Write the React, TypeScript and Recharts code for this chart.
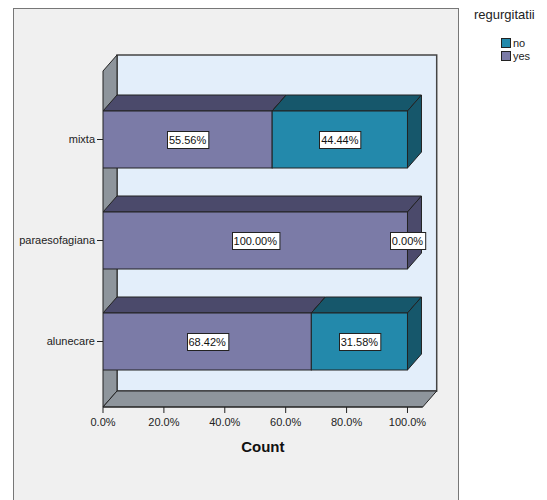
import React from 'react';
import { BarChart, Bar, XAxis, YAxis, LabelList } from 'recharts';

const categories = ['mixta', 'paraesofagiana', 'alunecare'];
const yesShare = [0.5556, 1.0, 0.6842];
const noShare = [0.4444, 0.0, 0.3158];
const legendItems = ['no', 'yes'];
const xTicks = [0, 0.2, 0.4, 0.6, 0.8, 1.0];

const data = categories.map((name, i) => ({ name, yes: yesShare[i], no: noShare[i] }));

const W = 547;
const H = 500;
// front plane of the 3d box
const LEFT = 103;
const RIGHT = 422.7;
const TOP = 71;
const BOTTOM = 407;
const DX = 14;
const DY = 16;

const colors: Record<string, { front: string; dark: string }> = {
  yes: { front: '#7b7ba7', dark: '#4b4a6b' },
  no: { front: '#2389ab', dark: '#16576b' },
};
const edge = '#222';
const font = '"Liberation Sans", Arial, sans-serif';

const bar3d = (key: string) => (props: any) => {
  const { x, y, width, height } = props;
  if (!width || width <= 0) return null;
  const x1 = x + width;
  const y1 = y + height;
  const c = colors[key];
  return (
    <g>
      <path d={`M${x},${y}L${x + DX},${y - DY}L${x1 + DX},${y - DY}L${x1},${y}Z`} fill={c.dark} stroke={edge} />
      <path d={`M${x1},${y}L${x1 + DX},${y - DY}L${x1 + DX},${y1 - DY}L${x1},${y1}Z`} fill={c.dark} stroke={edge} />
      <rect x={x} y={y} width={width} height={height} fill={c.front} stroke={edge} />
    </g>
  );
};

const charW = (s: string) =>
  s.split('').reduce((a, ch) => a + (ch === '.' ? 3.06 : ch === '%' ? 9.78 : 6.12), 0);

const pctLabel = (props: any) => {
  const { x, y, width, height, value } = props;
  const text = (Number(value) * 100).toFixed(2) + '%';
  const cx = x + width / 2;
  const cy = y + height / 2;
  const w = charW(text) + 4;
  return (
    <g>
      <rect x={Math.round(cx - w / 2) + 0.5} y={Math.round(cy - 9) + 0.5} width={w} height={17} fill="#fff" stroke={edge} />
      <text x={cx} y={cy + 4} textAnchor="middle" fontSize={11} fontFamily={font} fill="#111">
        {text}
      </text>
    </g>
  );
};

const Backdrop = () => (
  <svg width={W} height={H} style={{ position: 'absolute', left: 0, top: 0 }}>
    <rect x={13.5} y={8.5} width={445} height={520} fill="#f0f0f0" stroke="#777" />
    <rect x={LEFT + DX} y={TOP - DY} width={RIGHT - LEFT} height={BOTTOM - TOP} fill="#e3eefa" stroke="#444" strokeWidth={1.5} />
    <polygon points={`${LEFT},${TOP} ${LEFT + DX},${TOP - DY} ${LEFT + DX},${BOTTOM - DY} ${LEFT},${BOTTOM}`} fill="#8e959c" stroke={edge} />
    <polygon points={`${LEFT},${BOTTOM} ${LEFT + DX},${BOTTOM - DY} ${RIGHT + DX},${BOTTOM - DY} ${RIGHT},${BOTTOM}`} fill="#8e959c" stroke={edge} />
    <text x={474} y={19} fontSize={13} fontFamily={font} fill="#222">regurgitatii</text>
    {legendItems.map((k, i) => (
      <g key={k}>
        <rect x={501.5} y={38.5 + i * 13} width={9} height={9} fill={colors[k].front} stroke={edge} />
        <text x={513} y={47 + i * 13} fontSize={11} fontFamily={font} fill="#222">{k}</text>
      </g>
    ))}
  </svg>
);

const App = () => {
  return (
    <div style={{ position: 'absolute', left: 0, top: 0, width: W, height: H, background: '#fff' }}>
      <Backdrop />
      <div style={{ position: 'absolute', left: 0, top: 0 }}>
        <BarChart
          width={W}
          height={H}
          data={data}
          layout='vertical'
          barSize={57}
          margin={{ top: TOP, right: W - RIGHT, bottom: 0, left: 0 }}
        >
          <XAxis
            type='number'
            domain={[0, 1.05]}
            ticks={xTicks}
            allowDataOverflow
            height={H - BOTTOM}
            tickFormatter={(v: number) => (v * 100).toFixed(1) + '%'}
            tick={{ fontSize: 11, fontFamily: font, fill: '#222' }}
            tickSize={6}
            tickMargin={5}
            stroke={edge}
            label={{ value: 'Count', position: 'insideTop', offset: 34, style: { fontSize: 15, fontWeight: 'bold', fontFamily: font, fill: '#111' } }}
          />
          <YAxis
            type='category'
            dataKey='name'
            width={LEFT}
            padding={{ top: 18, bottom: 15 }}
            axisLine={false}
            tickSize={6}
            stroke={edge}
            tick={{ fontSize: 11, fontFamily: font, fill: '#222' }}
          />
          <Bar dataKey='yes' stackId='a' shape={bar3d('yes')} isAnimationActive={false}>
            <LabelList dataKey='yes' content={pctLabel} />
          </Bar>
          <Bar dataKey='no' stackId='a' shape={bar3d('no')} isAnimationActive={false}>
            <LabelList dataKey='no' content={pctLabel} />
          </Bar>
        </BarChart>
      </div>
    </div>
  );
};

export default App;
